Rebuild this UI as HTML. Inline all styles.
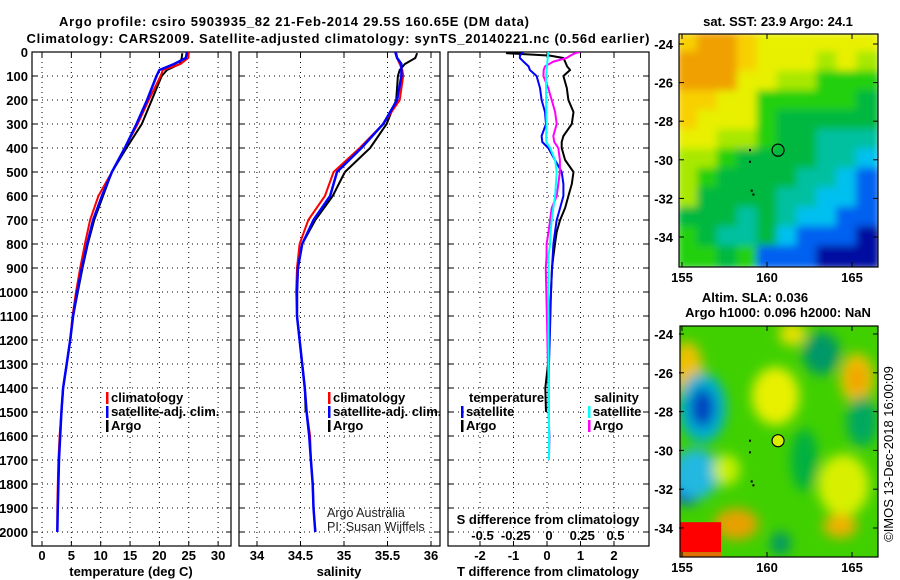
<!DOCTYPE html>
<html><head><meta charset="utf-8"><style>
html,body{margin:0;padding:0;background:#fff;}
svg{display:block;font-family:"Liberation Sans",Arial,sans-serif;}
.b{font-weight:bold;font-size:13px;}
</style></head><body>
<svg id="chart" width="900" height="580" viewBox="0 0 900 580" xmlns="http://www.w3.org/2000/svg">
<defs>
<clipPath id="c1"><rect x="32" y="52" width="199" height="494"/></clipPath>
<clipPath id="c2"><rect x="239" y="52" width="201" height="494"/></clipPath>
<clipPath id="c3"><rect x="448" y="52" width="201" height="494"/></clipPath>
<clipPath id="cm1"><rect x="679" y="34" width="199" height="233"/></clipPath>
<clipPath id="cm2"><rect x="680" y="326" width="198" height="231"/></clipPath>
<filter id="bl1" x="-10%" y="-10%" width="120%" height="120%"><feGaussianBlur stdDeviation="4"/></filter>
<filter id="bl2" x="-50%" y="-50%" width="200%" height="200%"><feGaussianBlur stdDeviation="6"/></filter>
</defs>
<text class="b" x="294" y="26" text-anchor="middle" font-size="14" textLength="470">Argo profile: csiro 5903935_82 21-Feb-2014 29.5S 160.65E (DM data)</text>
<text class="b" x="338" y="43" text-anchor="middle" font-size="14" textLength="623">Climatology: CARS2009. Satellite-adjusted climatology: synTS_20140221.nc (0.56d earlier)</text>
<g id="g"></g>
</svg>
<script>
// ---- data ----
const depthC=[0,25,50,75,100,200,300,400,500,600,700,800,900,1000,1100,1200,1300,1400,1500,1600,1700,1800,1900,2000];
const tempClim=[25,24.9,23.6,20.6,20.2,18.2,16.3,14.1,11.9,9.6,8.2,7.3,6.5,5.8,5.2,4.8,4.2,3.6,3.3,3.0,2.8,2.7,2.6,2.6];
const tempSat=[24.7,24.5,22.5,20.0,19.5,17.9,16.1,14.1,11.9,10.2,8.7,7.7,6.8,6.0,5.3,4.8,4.2,3.6,3.3,3.1,2.9,2.8,2.7,2.6];
const depthA=[5,25,50,75,100,200,300,400,500,600,700,800,900,1000,1100,1200,1300,1400,1500];
const tempArgo=[23.9,23.8,23.5,21.3,20.4,18.7,17.0,14.4,11.9,10.4,8.9,7.8,6.9,6.1,5.3,4.8,4.2,3.6,3.3];
const salClim=[35.60,35.61,35.64,35.67,35.68,35.64,35.45,35.18,34.88,34.78,34.59,34.49,34.46,34.45,34.46,34.49,34.52,34.55,34.57,34.61,34.62,34.64,34.65,34.67];
const salSat=[35.59,35.61,35.66,35.66,35.66,35.61,35.45,35.20,34.92,34.84,34.65,34.52,34.47,34.46,34.46,34.49,34.52,34.55,34.57,34.60,34.62,34.64,34.65,34.67];
const salArgo=[35.84,35.82,35.70,35.64,35.62,35.60,35.49,35.30,35.01,34.87,34.67,34.52,34.47,34.46,34.46,34.49,34.52,34.55,34.56];
const depthD=[0,5,15,25,40,60,75,100,150,200,250,300,350,375,400,450,500,550,600,650,700,750,800,850,900,1000,1100,1200,1300,1400,1500,1600,1700];
const tDiffArgo=[-0.73,-1.2,0.09,0.49,0.54,0.6,0.69,0.49,0.59,0.64,0.79,0.74,0.49,0.44,0.44,0.54,0.79,0.74,0.64,0.54,0.39,0.29,0.24,0.19,0.15,0.12,0.08,0.06,0.03,-0.05,-0.03];
const tDiffSat=[-0.71,-0.75,-0.81,-0.81,-0.7,-0.55,-0.51,-0.31,-0.21,-0.16,-0.06,-0.03,-0.16,-0.14,0.04,0.24,0.44,0.49,0.49,0.39,0.29,0.24,0.19,0.17,0.15,0.12,0.1,0.08,0.06,0.05,0.05,0.07,0.06];
const sDiffArgo=[0.234,0.196,0.16,0.132,0.032,-0.03,-0.04,-0.042,-0.006,0.02,0.046,0.058,0.032,0.04,0.07,0.082,0.082,0.07,0.058,0.02,0.008,-0.004,-0.018,-0.018,-0.024,-0.02,-0.016,-0.012,-0.008,-0.004,0];
const sDiffSat=[-0.006,-0.006,-0.008,-0.01,-0.012,-0.016,-0.018,-0.022,-0.022,-0.022,-0.02,-0.018,-0.022,-0.02,0.008,0.046,0.058,0.052,0.046,0.032,0.02,0.012,0.008,-0.004,-0.004,-0.006,-0.004,-0.004,-0.002,0,0,0,0];
const depthTicks=[0,100,200,300,400,500,600,700,800,900,1000,1100,1200,1300,1400,1500,1600,1700,1800,1900,2000];
const tempTicks=[0,5,10,15,20,25,30];
const salTicks=[34,34.5,35,35.5,36];
const salTickLabels=['34','34.5','35','35.5','36'];
const tdTicks=[-2,-1,0,1,2];
const sdTicks=[-0.5,-0.25,0,0.25,0.5];
const sdTickLabels=['-0.5','-0.25','0','0.25','0.5'];
const latTicks=[-24,-26,-28,-30,-32,-34];
const lonTicks=[155,160,165];
const sstGrid=[
[1,0,0,1,2,2,2,2,2,2],
[0,0,0,1,2,2,2,3,2,3],
[0,0,0,2,2,3,3,4,4,4],
[1,1,2,2,4,4,4,4,4,5],
[1,2,2,2,4,5,5,5,5,5],
[2,2,3,3,4,5,5,6,6,6],
[3,3,4,5,5,5,5,6,6,7],
[3,4,5,5,5,5,6,6,7,8],
[3,5,5,5,5,6,6,7,7,8],
[5,5,5,6,5,6,7,7,8,8],
[4,5,6,6,5,7,8,8,8,9],
[4,4,5,4,8,8,8,9,9,9]];
const sstPalette=['#f0a000','#f8d000','#e8f000','#a8e800','#20d010','#00b840','#00c0a0','#00c0f0','#0060f0','#0010a0'];
const slaLon=[155.3,156.2,156.2,155.3,155.8,160.5,161.5,163.2,165.3,165.3,164.5,164.3,162.2,165.6,160.8,157.6,158.2];
const slaLat=[-25.8,-27.8,-27.8,-31.8,-31.2,-27.2,-24.0,-25.0,-26.3,-26.3,-31.8,-33.9,-30.5,-28.5,-34.8,-31.0,-33.8];
const slaRx=[0.9,1.4,0.7,1.0,1.4,1.4,0.8,1.1,1.0,0.5,1.5,1.0,0.8,0.9,0.6,0.8,1.3];
const slaRy=[1.4,1.8,1.0,1.0,1.3,1.5,0.6,1.1,1.3,0.7,1.6,0.6,1.6,1.3,0.6,0.8,0.8];
const slaCol=['#f0c000','#00b0d0','#0040c0','#0050d0','#20b8e0','#e8f000','#e8e000','#009868','#f0c000','#f0a000','#d8f000','#f0b000','#00b040','#00a860','#009868','#c8f000','#e8a000'];

const NS='http://www.w3.org/2000/svg';
const G=document.getElementById('g');
function mk(tag,attrs,parent){const e=document.createElementNS(NS,tag);for(const k in attrs)e.setAttribute(k,attrs[k]);(parent||G).appendChild(e);return e;}
const Y0=52, PY=0.24;
function yD(d){return Y0+d*PY;}
function xT(t){return 42+t*5.87;}
function xS(s){return 257+(s-34)*87;}
function xTD(t){return 547+t*33.5;}
function xSD(s){return 549+s*133;}
const PB=546;
const panels=[{x0:32,x1:231,clip:'c1'},{x0:239,x1:440,clip:'c2'},{x0:448,x1:649,clip:'c3'}];

function txt(x,y,s,anchor,cls,parent,extra){const t=mk('text',Object.assign({x:x,y:y,'text-anchor':anchor||'start'},extra||{}),parent);if(cls)t.setAttribute('class',cls);t.textContent=s;return t;}

panels.forEach((p,i)=>{
  const grp=mk('g',{});
  
  
  depthTicks.forEach(d=>{const y=yD(d);
    if(d>0){const l=mk('line',{x1:p.x0,x2:p.x1,y1:y,y2:y,stroke:'#000','stroke-width':1,'stroke-dasharray':'1,4'},grp);}
    mk('line',{x1:p.x0,x2:p.x0+5,y1:y,y2:y,stroke:'#000'},grp);
    mk('line',{x1:p.x1-5,x2:p.x1,y1:y,y2:y,stroke:'#000'},grp);
  });
  const fr=mk('rect',{x:p.x0,y:Y0,width:p.x1-p.x0,height:PB-Y0,fill:'none',stroke:'#000','stroke-width':1.2},grp);
  
});
depthTicks.forEach(d=>{const t=txt(28,yD(d)+5,String(d),'end','b');});

function vgrid(vals,fx,p,labels,ly){
  vals.forEach((v,i)=>{const x=fx(v);
    const l=mk('line',{x1:x,x2:x,y1:Y0,y2:PB,stroke:'#000','stroke-dasharray':'1,4'});
    
    mk('line',{x1:x,x2:x,y1:Y0,y2:Y0+5,stroke:'#000'});
    mk('line',{x1:x,x2:x,y1:PB-5,y2:PB,stroke:'#000'});
    if(labels){const t=txt(x,ly,labels[i],'middle','b');}
  });
}
vgrid(tempTicks,xT,panels[0],tempTicks.map(String),560);
vgrid(salTicks,xS,panels[1],salTickLabels,560);
vgrid(tdTicks,xTD,panels[2],tdTicks.map(String),560);
sdTicks.forEach((v,i)=>{const t=txt(xSD(v),540,sdTickLabels[i],'middle','b');});

function line(xs,ds,fx,col,clip,name,w){
  const pts=xs.map((v,i)=>fx(v).toFixed(1)+','+yD(ds[i]).toFixed(1)).join(' ');
  const pl=mk('polyline',{points:pts,fill:'none',stroke:col,'stroke-width':w||2,'clip-path':'url(#'+clip+')','stroke-linejoin':'round'});
  
  
}
line(tempArgo,depthA,xT,'#000','c1','temp-argo-line');
line(tempClim,depthC,xT,'#ff0000','c1','temp-climatology-line');
line(tempSat,depthC,xT,'#0000ff','c1','temp-satellite-line',2.5);
line(salArgo,depthA,xS,'#000','c2','salinity-argo-line');
line(salClim,depthC,xS,'#ff0000','c2','salinity-climatology-line');
line(salSat,depthC,xS,'#0000ff','c2','salinity-satellite-line',2.5);
line(tDiffArgo,depthD,xTD,'#000','c3','t-diff-argo-line');
line(tDiffSat,depthD,xTD,'#0000ff','c3','t-diff-satellite-line');
line(sDiffArgo,depthD,xSD,'#ff00ff','c3','s-diff-argo-line');
line(sDiffSat,depthD,xSD,'#00ffff','c3','s-diff-satellite-line');

[[131,576,'temperature (deg C)','x-axis-title-temperature'],[339,576,'salinity','x-axis-title-salinity'],[548,576,'T difference from climatology','x-axis-title-t-diff'],[548,524,'S difference from climatology','s-diff-axis-title']].forEach(a=>{const t=txt(a[0],a[1],a[2],'middle','b');});

function leg(x,y,col,label,name){
  const g=mk('g',{});
  mk('rect',{x:x,y:y-10,width:2.5,height:12,fill:col},g);
  txt(x+5,y,label,'start','b',g,{'font-size':'12.5'});
}
leg(106,402,'#ff0000','climatology','legend-temp-climatology');
leg(106,416,'#0000ff','satellite-adj. clim.','legend-temp-satellite');
leg(106,430,'#000','Argo','legend-temp-argo');
leg(328,402,'#ff0000','climatology','legend-sal-climatology');
leg(328,416,'#0000ff','satellite-adj. clim.','legend-sal-satellite');
leg(328,430,'#000','Argo','legend-sal-argo');
{const t=txt(469,402,'temperature','start','b',null,{'font-size':'12.5'});}
{const t=txt(594,402,'salinity','start','b',null,{'font-size':'12.5'});}
leg(461,416,'#0000ff','satellite','legend-tdiff-satellite');
leg(461,430,'#000','Argo','legend-tdiff-argo');
leg(588,416,'#00ffff','satellite','legend-sdiff-satellite');
leg(588,430,'#ff00ff','Argo','legend-sdiff-argo');
{const t=txt(327,517,'Argo Australia','start',null,null,{'font-size':'12.5',fill:'#222'});}
{const t=txt(327,531,'PI: Susan Wijffels','start',null,null,{'font-size':'12.5',fill:'#222'});}

function mx(lon){return 682+(lon-155)*17;}
function my1(lat){return 44+(-24-lat)*19.3;}
function my2(lat){return 334+(-24-lat)*19.4;}
const m1=mk('g',{'clip-path':'url(#cm1)'});

const m1b=mk('g',{filter:'url(#bl1)'},m1);
const cw=199/10, ch=233/12;
sstGrid.forEach((row,r)=>row.forEach((c,k)=>{mk('rect',{x:(679+k*cw-2).toFixed(1),y:(34+r*ch-2).toFixed(1),width:(cw+4).toFixed(1),height:(ch+4).toFixed(1),fill:sstPalette[c]},m1b);}));
const m2=mk('g',{'clip-path':'url(#cm2)'});

mk('rect',{x:680,y:326,width:198,height:231,fill:'#40d000'},m2);
const m2b=mk('g',{filter:'url(#bl2)'},m2);
slaLon.forEach((lo,i)=>{mk('ellipse',{cx:mx(lo),cy:my2(slaLat[i]),rx:slaRx[i]*17,ry:slaRy[i]*19.4,fill:slaCol[i]},m2b);});
mk('rect',{x:mx(155)-4,y:my2(-33.7),width:2.3*17+4,height:30,fill:'#ff0000'},m2);
mk('rect',{x:mx(155)-4,y:my2(-33.7)+30,width:2.3*17+4,height:6,fill:'#e07000'},m2);

[[my1,34,267,'sst'],[my2,326,557,'sla']].forEach(([fy,t,b,nm],mi)=>{
  const f=mk('rect',{x:mi?680:679,y:t,width:mi?198:199,height:b-t,fill:'none',stroke:'#000','stroke-width':1.2});
  
  latTicks.forEach(la=>{const y=fy(la);
    mk('line',{x1:679,x2:684,y1:y,y2:y,stroke:'#000'});mk('line',{x1:873,x2:878,y1:y,y2:y,stroke:'#000'});
    const tl=txt(673,y+5,String(la),'end','b');});
  lonTicks.forEach(lo=>{const x=mx(lo);
    mk('line',{x1:x,x2:x,y1:t,y2:t+5,stroke:'#000'});mk('line',{x1:x,x2:x,y1:b-5,y2:b,stroke:'#000'});
    const tl=txt(x,b+15,String(lo),'middle','b');});
  [[159,-29.5],[159,-30.1],[159.1,-31.6],[159.2,-31.8]].forEach(q=>mk('rect',{x:mx(q[0])-1,y:fy(q[1])-1,width:2,height:2,fill:'#000'}));
  const c=mk('circle',{cx:mx(160.65),cy:fy(-29.5),r:6,fill:mi?'#d8f000':'none',stroke:'#000','stroke-width':1.2});
  
});
{const t=txt(778,26,'sat. SST: 23.9 Argo: 24.1','middle','b');}
{const t=txt(755,302,'Altim. SLA: 0.036','middle','b');}
{const t=txt(778,317,'Argo h1000: 0.096 h2000: NaN','middle','b');}
{const t=txt(0,0,'©IMOS 13-Dec-2018 16:00:09','middle',null,null,{'font-size':'13',transform:'translate(893,454) rotate(-90)'});}
</script>
</body></html>
